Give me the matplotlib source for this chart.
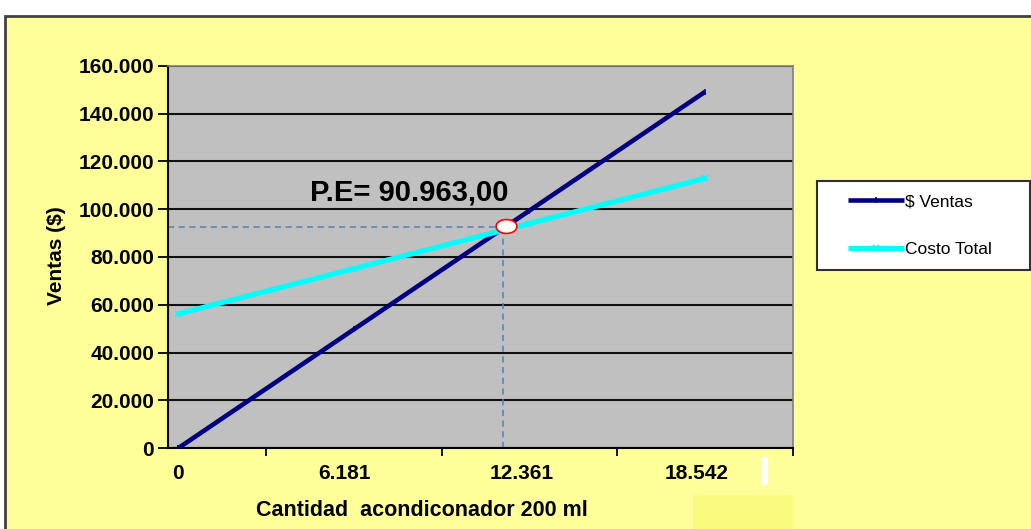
import matplotlib
matplotlib.use("Agg")
import matplotlib.pyplot as plt
from matplotlib.patches import Rectangle
from matplotlib.ticker import FuncFormatter
import numpy as np

# ---- data ----
categories = ["0", "6.181", "12.361", "18.542"]
ventas = [0, 49700, 99400, 149100]
costo_total = [56200, 75100, 94000, 112900]
series_names = ["$ Ventas", "Costo Total"]
pe_label = "P.E= 90.963,00"
pe_pos = 1.85       # break-even position along category axis
pe_value = 92700    # break-even value drawn on chart

W, H = 1031, 529
plt.rcParams["font.family"] = ["Liberation Sans", "DejaVu Sans"]
fig = plt.figure(figsize=(W / 100, H / 100), dpi=100, facecolor="white")

def fx(px):
    return px / W

def fy(py):
    return 1 - py / H

# chart area background (yellow with dark border on top/left)
fig.add_artist(Rectangle((fx(5), fy(H + 10)), 1.2, fy(16) - fy(H + 10),
                         transform=fig.transFigure, facecolor="#FFFF99",
                         edgecolor="#404040", linewidth=2, zorder=0))
# small artifacts
fig.add_artist(Rectangle((fx(761), fy(485)), fx(7), fy(457) - fy(485),
                         transform=fig.transFigure, facecolor="white",
                         edgecolor="none", zorder=1))
fig.add_artist(Rectangle((fx(693), fy(529)), fx(100), fy(495) - fy(529),
                         transform=fig.transFigure, facecolor="#FAFA7E",
                         edgecolor="none", zorder=1))

left, right, top, bottom = 168, 793, 65.7, 448.3
ax = fig.add_axes([fx(left), fy(bottom), fx(right - left), fy(top) - fy(bottom)])
ax.set_facecolor("#C0C0C0")

x = np.arange(len(categories))
ax.set_xlim(-0.057, 3.5)
ax.set_ylim(0, 160000)

# gridlines
ax.set_yticks(np.arange(0, 160001, 20000))
ax.yaxis.set_major_formatter(FuncFormatter(lambda v, p: f"{int(v):,}".replace(",", ".")))
ax.grid(axis="y", color="#101010", linewidth=1.5)
ax.set_axisbelow(True)

# data lines
ax.plot(x, ventas, color="#000080", linewidth=3.3, marker="|", markersize=5,
        markeredgewidth=1.2, label=series_names[0], zorder=3, solid_capstyle="butt")
ax.plot(x, costo_total, color="#00FFFF", linewidth=3.8, marker="x", markersize=5,
        markeredgewidth=1.2, label=series_names[1], zorder=3, solid_capstyle="butt")

# break-even guides
ax.plot([-0.057, pe_pos], [pe_value, pe_value], color="#4F81BD", linestyle=(0, (4, 3)),
        linewidth=1.1, zorder=2)
ax.plot([pe_pos, pe_pos], [0, pe_value], color="#4F81BD", linestyle=(0, (4, 3)),
        linewidth=1.1, zorder=2)
t = np.linspace(0, 2 * np.pi, 40)
ell = list(zip(1.5 * np.cos(t), np.sin(t)))
ax.plot([pe_pos + 0.015], [pe_value + 300], marker=ell, markersize=15,
        markerfacecolor="white", markeredgecolor="red", markeredgewidth=1.2,
        linestyle="none", zorder=5)
ax.text(0.75, 107000, pe_label, fontsize=21, fontweight="bold", ha="left",
        va="center", zorder=6)

# axes styling
for s in ["top", "right"]:
    ax.spines[s].set_color("#808080")
    ax.spines[s].set_linewidth(1.2)
ax.spines["left"].set_color("black")
ax.spines["left"].set_linewidth(1.5)
ax.spines["bottom"].set_color("black")
ax.spines["bottom"].set_linewidth(1.5)

ax.tick_params(axis="y", direction="out", length=7, width=1.3, labelsize=15, pad=3)
for lab in ax.get_yticklabels():
    lab.set_fontweight("bold")

# x axis: tick marks between categories, labels near categories
ax.set_xticks([0.5, 1.5, 2.5, 3.5])
ax.set_xticklabels([])
ax.tick_params(axis="x", direction="out", length=6, width=1.3)
label_pos = [0, 0.95, 1.955, 2.95]
for pos, lab in zip(label_pos, categories):
    ax.text(pos, -0.04, lab, transform=ax.get_xaxis_transform(), ha="center",
            va="top", fontsize=15, fontweight="bold")

fig.text(fx(57), fy(256), "Ventas ($)", rotation=90, ha="center", va="center",
         fontsize=15, fontweight="bold")
fig.text(fx(422), fy(511), "Cantidad  acondiconador 200 ml", ha="center",
         va="center", fontsize=15.5, fontweight="bold")

# legend box
fig.add_artist(Rectangle((fx(817), fy(270)), fx(213), fy(181) - fy(270),
                         transform=fig.transFigure, facecolor="white",
                         edgecolor="#303030", linewidth=1.5, zorder=4))
leg = fig.legend(loc="upper left", bbox_to_anchor=(fx(836), fy(182)),
                 frameon=False, fontsize=12.5, handlelength=3.2,
                 handletextpad=0.05, labelspacing=1.9, borderpad=0.2)
leg.set_zorder(5)

fig.savefig("out.png", dpi=100, facecolor="white")
